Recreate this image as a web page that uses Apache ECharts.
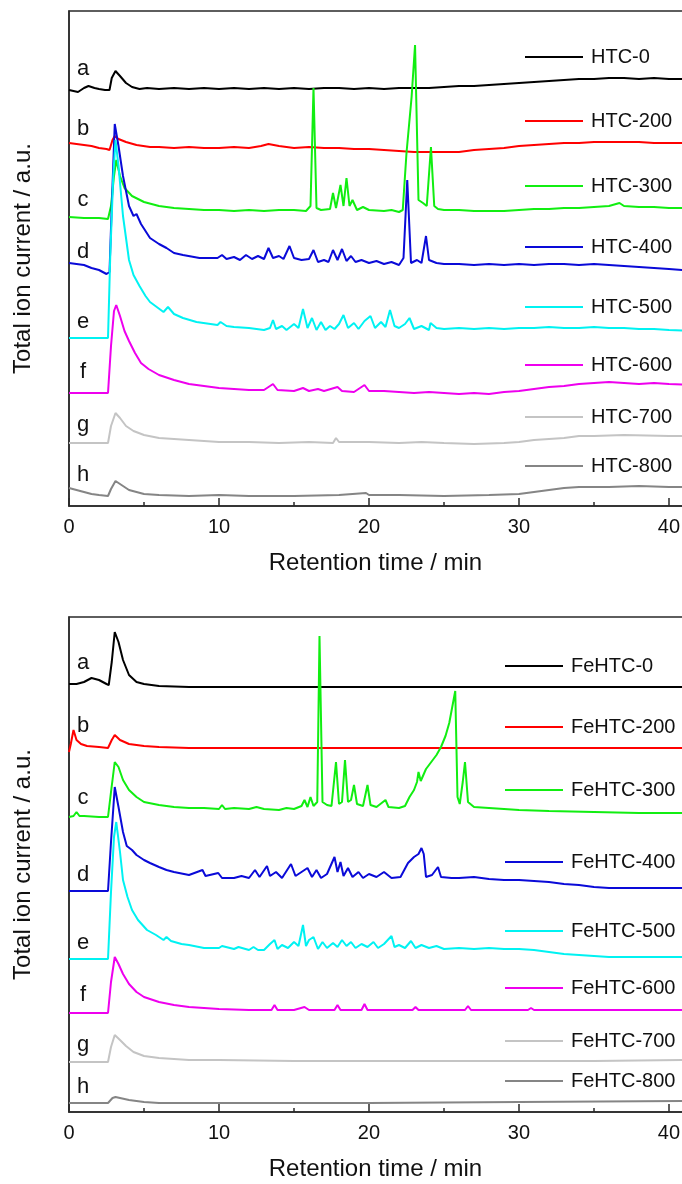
<!DOCTYPE html>
<html><head><meta charset="utf-8">
<script src="https://cdn.jsdelivr.net/npm/echarts@6/dist/echarts.min.js"></script>
<style>html,body{margin:0;padding:0;background:#fff}#c{width:682px;height:1184px}</style>
</head><body><div id="c"></div>
<script>
// ---------- DATA ----------
const letters = ['a','b','c','d','e','f','g','h'];
const htcNames = ['HTC-0','HTC-200','HTC-300','HTC-400','HTC-500','HTC-600','HTC-700','HTC-800'];
const feNames = ['FeHTC-0','FeHTC-200','FeHTC-300','FeHTC-400','FeHTC-500','FeHTC-600','FeHTC-700','FeHTC-800'];
const colors = ['#000000','#ff0000','#11ee11','#0a0ad8','#00f2f2','#ee00ee','#c4c4c4','#858585'];
const xTicks = [0,10,20,30,40];

// [retention time (min), total ion current (a.u., offset-stacked)]
const htc0 = [[0,416],[0.3,415],[0.6,414],[1.0,418],[1.3,420],[1.7,418],[2.0,417],[2.4,416],[2.7,416],[2.85,428],[3.1,435],[3.4,430],[3.8,423],[4.2,419],[4.7,417],[5.2,418],[6,417],[7,418],[8,417],[9,418],[10,417],[11,418],[12,417],[13,418],[14,417],[15,418],[16,417],[17,418],[18,418],[19,417],[20,418],[21,417],[22,418],[23,418],[24,418],[25,419],[26,420],[27,420],[28,421],[29,422],[30,423],[31,424],[32,425],[33,426],[34,427],[35,427],[36,428],[37,428],[38,427],[39,428],[40,427],[41.6,427]];
const htc200 = [[0,363],[0.5,362],[1,361],[1.5,360],[2,358],[2.5,357],[2.7,356],[2.9,366],[3.05,370],[3.3,367],[3.8,364],[4.5,361],[5.4,359],[6,359],[7,358],[8,359],[9,358],[10,358],[11,359],[12,358],[12.8,360],[13.3,362],[14,360],[15,358],[16,359],[17,358],[18,358],[19,357],[20,357],[21,356],[22,355],[23,354],[24,354],[25,354],[26,354],[27,356],[28,357],[29,358],[30,360],[31,361],[32,362],[33,363],[34,363],[35,364],[36,364],[37,364],[38,364],[39,363],[40,363],[41.6,363]];
const htc300 = [[0,289],[1,288],[2,288],[2.6,287],[2.8,300],[3.0,330],[3.15,346],[3.4,330],[3.7,318],[4.2,310],[5,304],[6,300],[7,298],[8,297],[9,296],[10,296],[11,295],[12,296],[13,295],[14,296],[15,296],[15.8,295],[16.1,300],[16.3,418],[16.5,298],[16.8,296],[17.4,297],[17.6,313],[17.8,298],[18.1,321],[18.3,300],[18.5,328],[18.7,300],[18.9,306],[19.2,296],[19.6,299],[20,296],[21,295],[21.5,296],[22,294],[22.25,296],[22.5,353],[22.84,409],[23.07,461],[23.3,306],[23.6,303],[23.85,300],[24.13,359],[24.35,300],[24.6,297],[25,296],[26,296],[27,295],[28,295],[29,295],[30,296],[31,297],[32,297],[33,298],[34,298],[35,299],[36,300],[36.7,303],[37,300],[38,299],[39,299],[40,298],[41.6,298]];
const htc400 = [[0,243],[0.5,242],[1,241],[1.5,238],[2,236],[2.5,232],[2.7,234],[2.85,300],[3.05,382],[3.3,360],[3.6,330],[4.0,300],[4.3,290],[4.5,292],[4.8,282],[5.4,268],[6,262],[6.5,258],[7,253],[7.6,251],[8.7,248],[9.9,248],[10.2,251],[10.5,247],[11,249],[11.4,246],[11.8,251],[12.2,247],[12.6,250],[13.0,247],[13.3,258],[13.6,248],[14,250],[14.3,247],[14.7,260],[15,248],[15.5,246],[16,247],[16.3,256],[16.6,244],[17,246],[17.3,244],[17.6,256],[17.9,246],[18.2,257],[18.5,245],[18.8,250],[19.1,244],[19.5,246],[20,243],[20.5,245],[21,242],[21.5,244],[22,241],[22.3,248],[22.55,326],[22.8,243],[23.2,246],[23.5,243],[23.8,270],[24,246],[24.5,243],[25,242],[26,242],[27,241],[28,242],[29,241],[30,242],[31,241],[32,242],[33,242],[34,241],[35,242],[36,241],[37,240],[38,239],[39,238],[40,237],[41.6,235]];
const htc500 = [[0,168],[1,168],[2,168],[2.6,168],[2.75,250],[2.95,330],[3.1,366],[3.3,340],[3.6,290],[4.0,246],[4.3,231],[4.7,220],[5.1,210],[5.4,204],[6.3,194],[6.6,199],[7,192],[7.6,188],[8.5,184],[9.9,181],[10.1,184],[10.5,180],[11,179],[12,178],[13,176],[13.4,178],[13.6,186],[13.8,177],[14.2,180],[14.5,176],[15,182],[15.3,178],[15.6,197],[15.9,178],[16.2,188],[16.5,176],[16.8,184],[17.1,176],[17.4,180],[17.7,177],[18.0,182],[18.3,191],[18.6,178],[19.0,183],[19.3,177],[19.7,185],[20.1,190],[20.4,178],[20.8,184],[21.1,179],[21.4,196],[21.7,180],[22.0,178],[22.4,182],[22.7,188],[23.0,177],[23.5,180],[24.0,176],[24.1,183],[24.5,178],[25,177],[26,178],[27,177],[28,178],[29,177],[30,178],[31,178],[32,179],[33,178],[34,178],[35,179],[36,178],[37,178],[38,177],[39,177],[40,176],[41.6,175]];
const htc600 = [[0,113],[1,113],[2,113],[2.6,113],[2.8,160],[3.0,195],[3.15,201],[3.4,190],[3.7,175],[4,165],[4.4,153],[4.8,143],[5.3,137],[6,131],[7,126],[8,122],[9,120],[10,118],[11,117],[12,116],[13,116],[13.6,122],[13.9,116],[15,115],[15.6,118],[16,115],[16.6,117],[17,115],[17.9,119],[18.2,115],[19,114],[19.7,121],[20,115],[21,115],[22,114],[23,113],[24,114],[25,113],[26,112],[27,113],[28,112],[29,114],[30,115],[31,117],[32,119],[33,120],[34,122],[35,123],[36,124],[37,123],[38,122],[39,123],[40,122],[41.6,121]];
const htc700 = [[0,63],[1,63],[2,63],[2.6,63],[2.8,80],[3.1,93],[3.4,88],[3.8,80],[4.3,75],[5,71],[6,68],[7,67],[8,66],[9,65],[10,64],[12,64],[14,63],[16,64],[17.6,63],[17.8,68],[18,64],[20,64],[22,63],[23.5,64],[25,63],[27,62],[29,63],[30,64],[31,66],[32,67],[33,68],[34,70],[35,70],[37,71],[40,70],[41.6,70]];
const htc800 = [[0,18],[0.5,16],[1,14],[1.5,12],[2,11],[2.6,10],[2.8,17],[3.1,25],[3.5,21],[4,16],[4.5,14],[5,12],[6,11],[8,10],[10,11],[12,10],[15,10],[18,11],[19.8,13],[20,11],[22,11],[25,10],[28,11],[30,12],[31,14],[32,16],[33,18],[34,19],[36,19],[38,20],[40,19],[41.6,19]];

const fe0 = [[0,428],[0.5,428],[1,430],[1.5,434],[2,432],[2.5,428],[2.65,427],[2.85,450],[3.05,480],[3.3,470],[3.6,452],[4,437],[4.5,430],[5,428],[6,426],[8,425],[10,425],[15,425],[20,425],[25,425],[30,425],[35,425],[41.6,425]];
const fe200 = [[0,360],[0.12,368],[0.3,382],[0.5,372],[0.8,368],[1.2,366],[2,365],[2.6,364],[2.85,372],[3.05,377],[3.4,372],[4,368],[5,366],[6,365],[8,364],[10,364],[20,364],[30,364],[41.6,364]];
const fe300 = [[0,295],[0.3,296],[0.5,300],[0.7,296],[1,296],[2,295],[2.6,295],[2.8,320],[3.05,350],[3.3,345],[3.6,332],[4,322],[4.5,315],[5,310],[6,307],[7,305],[8,304],[9,304],[10,303],[10.2,307],[10.4,303],[11,304],[12,303],[12.5,305],[13,303],[14,302],[14.5,304],[15,303],[15.5,306],[15.7,312],[15.9,305],[16.1,315],[16.3,306],[16.55,310],[16.7,476],[16.9,310],[17.2,307],[17.5,306],[17.8,350],[18.0,308],[18.2,310],[18.4,352],[18.6,310],[18.8,312],[19.0,327],[19.2,308],[19.6,306],[19.9,327],[20.1,307],[20.5,305],[21.1,312],[21.3,305],[22,304],[22.4,306],[22.7,315],[23.0,322],[23.2,330],[23.3,340],[23.45,331],[23.8,343],[24.1,349],[24.5,357],[24.8,365],[25.1,376],[25.35,389],[25.55,405],[25.75,421],[25.9,315],[26.05,308],[26.25,330],[26.4,350],[26.6,310],[27,305],[28,304],[30,302],[32,301],[35,300],[38,299],[41.6,299]];
const fe400 = [[0,221],[1,221],[2,221],[2.6,221],[2.8,270],[3.05,325],[3.3,305],[3.6,280],[3.85,266],[4.2,262],[4.5,257],[5,252],[5.4,249],[6,245],[6.5,242],[7,240],[8,237],[8.9,242],[9.1,236],[9.95,239],[10.2,234],[11,234],[11.5,236],[12,234],[12.4,242],[12.7,235],[13.2,246],[13.4,236],[13.8,240],[14.2,234],[14.8,248],[15.1,236],[15.5,240],[15.9,244],[16.2,235],[16.5,242],[16.8,234],[17.2,238],[17.7,255],[17.9,240],[18.1,250],[18.3,236],[18.6,244],[18.9,235],[19.3,240],[19.6,234],[20,238],[20.5,235],[21,240],[21.5,234],[22.1,235],[22.6,249],[23.0,255],[23.3,258],[23.5,264],[23.65,258],[23.8,235],[24.2,237],[24.6,245],[24.8,235],[25.5,234],[26,234],[27,235],[28,233],[29,232],[30,232],[31,231],[32,230],[33,228],[34,227],[35,225],[36,224],[38,224],[40,224],[41.6,224]];
const fe500 = [[0,153],[1,153],[2,153],[2.6,153],[2.8,220],[3.0,275],[3.15,290],[3.4,260],[3.6,232],[3.9,215],[4.2,202],[4.6,192],[5.2,182],[5.8,177],[6.3,172],[6.5,175],[6.8,171],[7.5,168],[8,167],[9,164],[10,164],[10.2,166],[11,163],[11.3,165],[12,162],[12.3,165],[12.6,162],[13,162],[13.4,168],[13.7,172],[13.9,163],[14.2,167],[14.6,164],[15.0,170],[15.3,166],[15.6,187],[15.8,166],[16.0,172],[16.3,175],[16.6,163],[16.9,170],[17.2,164],[17.6,169],[17.9,165],[18.2,172],[18.5,166],[18.8,170],[19.1,164],[19.5,168],[19.9,165],[20.3,170],[20.6,164],[21.0,168],[21.5,176],[21.7,165],[22.0,167],[22.4,164],[22.8,171],[23.1,164],[23.5,167],[24,164],[24.5,166],[25,163],[26,164],[27,163],[28,164],[29,163],[30,163],[31,162],[32,160],[33,158],[34,157],[35,156],[36,155],[38,155],[40,155],[41.6,155]];
const fe600 = [[0,99],[1,99],[2,99],[2.6,99],[2.8,130],[3.05,155],[3.3,148],[3.6,138],[4,128],[4.5,120],[5,115],[6,110],[7,107],[8,105],[9,104],[10,103],[12,102],[13.5,102],[13.7,107],[13.9,102],[15,102],[15.7,105],[16,102],[17.7,102],[17.9,107],[18.1,102],[19.5,102],[19.7,108],[19.9,102],[21,102],[22.9,102],[23.1,105],[23.3,102],[25,102],[26.4,102],[26.6,106],[26.8,102],[28,102],[30.6,102],[30.8,104],[31,102],[35,102],[41.6,102]];
const fe700 = [[0,50],[1,50],[2,50],[2.6,50],[2.8,65],[3.05,77],[3.4,72],[3.8,66],[4.3,60],[5,56],[6,54],[7,53],[8,52],[10,52],[15,51],[20,51],[25,51],[30,51],[35,51],[41.6,52]];
const fe800 = [[0,9],[1,9],[2,9],[2.6,9],[2.7,11],[2.9,14],[3.1,15],[3.4,14],[4,12],[5,10],[6,9],[10,9],[20,9],[30,10],[41.6,11]];

const htcData = [htc0,htc200,htc300,htc400,htc500,htc600,htc700,htc800];
const feData = [fe0,fe200,fe300,fe400,fe500,fe600,fe700,fe800];

// ---------- LAYOUT ----------
const FONT = '"Liberation Sans", Arial, sans-serif';
const X_MAX = 41.667;
const PANEL_TOP = [11, 617];
const PANEL_H = 495;
const PANEL_W = 625;
const LEG_LEFT = [525, 505];
const LEG_Y = [[58,122,187,248,308,366,418,467],[667,728,791,863,932,989,1042,1082]];
const LET_Y = [[69,129,200,252,322,372,425,475],[663,726,798,875,943,995,1045,1087]];

const chart = echarts.init(document.getElementById('c'), null, {renderer:'canvas'});
const axisColor = '#2a2a2a';
const grids = [], xAxes = [], yAxes = [], series = [], legends = [], graphics = [];
[htcNames, feNames].forEach((names, p) => {
  const dataSet = p === 0 ? htcData : feData;
  grids.push({left:69, top:PANEL_TOP[p], width:PANEL_W, height:PANEL_H, show:true,
    borderColor:axisColor, borderWidth:1.5, containLabel:false, outerBoundsMode:'none'});
  xAxes.push({gridIndex:p, type:'value', min:0, max:X_MAX, interval:10,
    axisLine:{show:true, onZero:false, lineStyle:{color:axisColor, width:1.5}},
    axisTick:{show:true, inside:true, length:8, lineStyle:{color:axisColor, width:1.5}},
    splitLine:{show:false},
    axisLabel:{fontSize:20, color:'#111', margin:11, fontFamily:FONT, showMaxLabel:false,
      formatter: v => xTicks.includes(v) ? String(v) : ''},
    name:'Retention time / min', nameLocation:'middle', nameGap:45,
    nameTextStyle:{fontSize:24, color:'#111', fontFamily:FONT, padding:[0,12,0,0]}});
  yAxes.push({gridIndex:p, type:'value', min:0, max:PANEL_H,
    axisLine:{show:true, lineStyle:{color:axisColor, width:1.5}}, axisTick:{show:false},
    axisLabel:{show:false}, splitLine:{show:false},
    name:'Total ion current / a.u.', nameLocation:'middle', nameGap:34,
    nameTextStyle:{fontSize:24, color:'#111', fontFamily:FONT}});
  names.forEach((n, i) => {
    series.push({name:n, type:'line', xAxisIndex:p, yAxisIndex:p, data:dataSet[i],
      showSymbol:false, symbol:'none', color:colors[i], lineStyle:{width:2, color:colors[i]},
      animation:false, silent:true});
    legends.push({data:[n], left:LEG_LEFT[p], top:LEG_Y[p][i]-11, padding:0, icon:'rect',
      itemWidth:58, itemHeight:2, selectedMode:false,
      textStyle:{fontSize:20, color:'#111', fontFamily:FONT, padding:[0,0,0,3]}});
    graphics.push({type:'text', x:83, y:LET_Y[p][i],
      style:{text:letters[i], align:'center', verticalAlign:'middle', font:'22px ' + FONT, fill:'#111'}});
  });
});
// minor-tick axes (inside ticks every 5 min)
[0,1].forEach(p => {
  xAxes.push({gridIndex:p, type:'value', min:0, max:X_MAX, interval:5, position:'bottom',
    axisLine:{show:false}, axisLabel:{show:false}, splitLine:{show:false},
    axisTick:{show:true, inside:true, length:4, lineStyle:{color:axisColor, width:1.5}}});
});

chart.setOption({animation:false, grid:grids, xAxis:xAxes, yAxis:yAxes, series:series, legend:legends, graphic:graphics});
</script>
</body></html>
